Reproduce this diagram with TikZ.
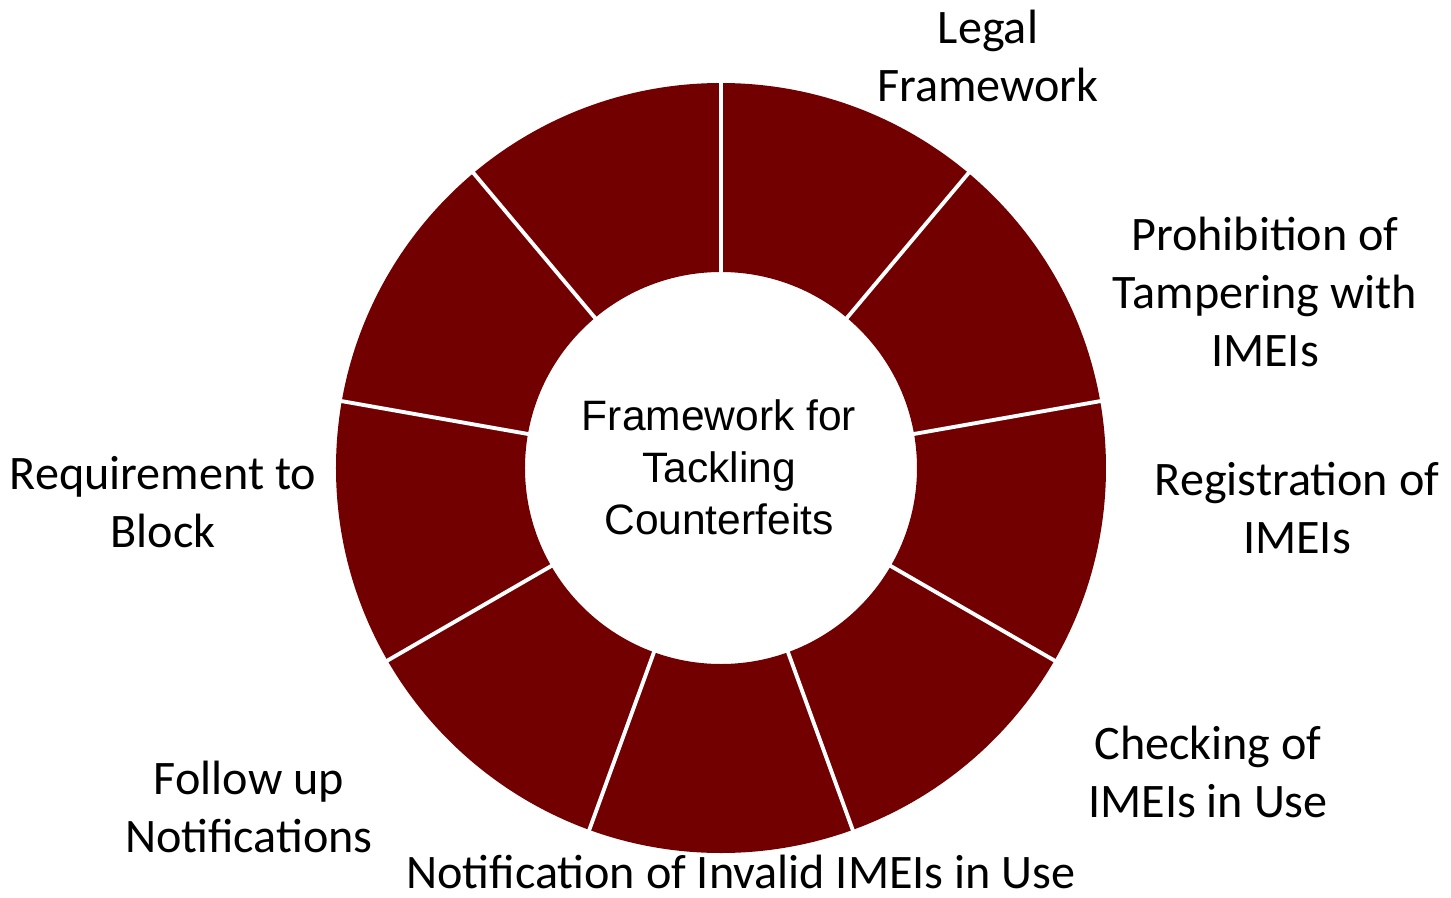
\documentclass[tikz,border=0pt]{standalone}
\usepackage{fontspec}
\setmainfont{Carlito}
\newfontfamily\hubfont{Liberation Sans}
\definecolor{ringred}{HTML}{720000}
\tikzset{
  pillar/.style={align=center, font=\fontsize{13.7pt}{16.5pt}\selectfont},
  hub/.style={align=center, font=\hubfont\fontsize{12.1pt}{14.8pt}\selectfont},
  gap/.style={white, line width=1.1pt}
}
\begin{document}
\begin{tikzpicture}
  \useasboundingbox (-7.21,-4.29) rectangle (7.30,4.68);

  \fill[ringred, even odd rule] (0,0) circle (3.85) (0,0) circle (1.96);
  \foreach \a in {90,50,...,-230}
    \draw[gap] (\a:1.9) -- (\a:3.9);

  \node[hub] (centre) at (-0.02,0.01) {Framework for\\Tackling\\Counterfeits};

  \node[pillar] (legal) at (2.67,4.12) {Legal\\Framework};
  \node[pillar] (tamper) at (5.44,1.76) {Prohibition of\\Tampering with\\IMEIs};
  \node[pillar] (register) at (5.76,-0.40) {Registration of\\IMEIs};
  \node[pillar] (check) at (4.87,-3.04) {Checking of\\IMEIs in Use};
  \node[pillar, inner sep=0pt] (notify) at (0.20,-4.04) {Notification of Invalid IMEIs in Use};
  \node[pillar] (follow) at (-4.72,-3.39) {Follow up\\Notifications};
  \node[pillar] (block) at (-5.58,-0.34) {Requirement to\\Block};
\end{tikzpicture}
\end{document}
